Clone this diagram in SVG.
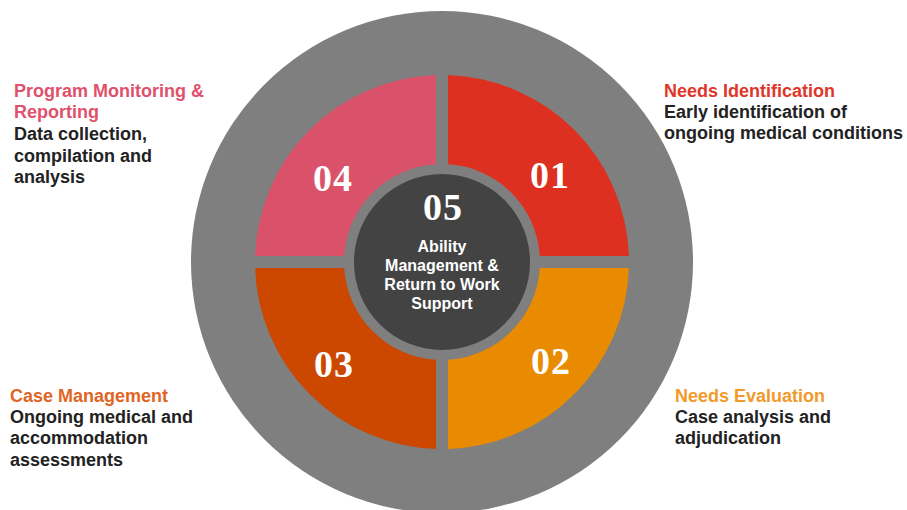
<svg xmlns="http://www.w3.org/2000/svg" width="907" height="510" viewBox="0 0 907 510">
<style>
.num{font-family:"Liberation Serif","Times New Roman",serif;font-weight:bold;font-size:38px;letter-spacing:1px;fill:#ffffff;text-anchor:middle}
.ctr{font-family:"Liberation Sans",Arial,sans-serif;font-weight:bold;font-size:16px;fill:#ffffff;text-anchor:middle}
.ttl{font-family:"Liberation Sans",Arial,sans-serif;font-weight:bold;font-size:18px}
.body{font-family:"Liberation Sans",Arial,sans-serif;font-weight:bold;font-size:18px;fill:#222222}
</style>
<rect width="907" height="510" fill="#ffffff"/>
<g id="ring">
<circle cx="442" cy="262" r="251" fill="#7f7f7f"/>
</g>
<g id="q1">
<path d="M448,75.1 A187,187 0 0 1 628.9,256 L539.82,256 A98,98 0 0 0 448,164.18 Z" fill="#dd3020"/>
<text class="num" x="550" y="188">01</text>
</g>
<g id="q2">
<path d="M628.9,268 A187,187 0 0 1 448,448.9 L448,359.82 A98,98 0 0 0 539.82,268 Z" fill="#e98b00"/>
<text class="num" x="551" y="374">02</text>
</g>
<g id="q3">
<path d="M436,448.9 A187,187 0 0 1 255.1,268 L344.18,268 A98,98 0 0 0 436,359.82 Z" fill="#cc4800"/>
<text class="num" x="334" y="377">03</text>
</g>
<g id="q4">
<path d="M255.1,256 A187,187 0 0 1 436,75.1 L436,164.18 A98,98 0 0 0 344.18,256 Z" fill="#d9526a"/>
<text class="num" x="333" y="191">04</text>
</g>
<g id="center">
<circle cx="442" cy="262" r="88" fill="#434343"/>
<text class="num" x="443" y="220">05</text>
<text class="ctr" x="442" y="252">Ability</text>
<text class="ctr" x="442" y="271">Management &amp;</text>
<text class="ctr" x="442" y="290">Return to Work</text>
<text class="ctr" x="442" y="309">Support</text>
</g>
<g id="label-04">
<text class="ttl" x="14" y="97" fill="#e0516c">Program Monitoring &amp;</text>
<text class="ttl" x="14" y="118" fill="#e0516c">Reporting</text>
<text class="body" x="14" y="140">Data collection,</text>
<text class="body" x="14" y="162">compilation and</text>
<text class="body" x="14" y="183">analysis</text>
</g>
<g id="label-01">
<text class="ttl" x="664" y="97" fill="#e0362a">Needs Identification</text>
<text class="body" x="664" y="118">Early identification of</text>
<text class="body" x="664" y="139">ongoing medical conditions</text>
</g>
<g id="label-03">
<text class="ttl" x="10" y="402" fill="#e06422">Case Management</text>
<text class="body" x="10" y="423">Ongoing medical and</text>
<text class="body" x="10" y="444">accommodation</text>
<text class="body" x="10" y="466">assessments</text>
</g>
<g id="label-02">
<text class="ttl" x="675" y="402" fill="#f09a2a">Needs Evaluation</text>
<text class="body" x="675" y="423">Case analysis and</text>
<text class="body" x="675" y="444">adjudication</text>
</g>
<g id="connectors"></g>
</svg>
